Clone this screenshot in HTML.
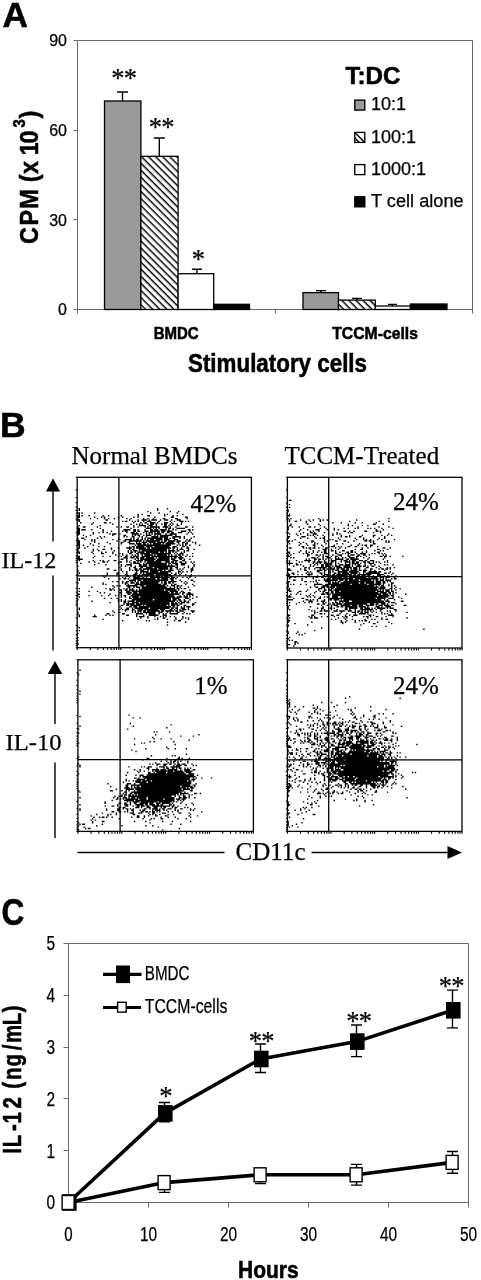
<!DOCTYPE html>
<html><head><meta charset="utf-8"><title>Figure</title>
<style>
html,body{margin:0;padding:0;background:#fff}
svg{display:block;filter:grayscale(1)}
.s{font-family:"Liberation Sans",sans-serif;stroke:#000;stroke-width:.25px}
.b{font-family:"Liberation Sans",sans-serif;font-weight:bold;stroke:#000;stroke-width:.55px}
.t{font-family:"Liberation Serif",serif;stroke:#000;stroke-width:.25px}
</style></head><body>
<svg width="481" height="1280" viewBox="0 0 481 1280">
<rect width="481" height="1280" fill="#fff"/>
<defs><pattern id="hz" width="5" height="5" patternUnits="userSpaceOnUse" patternTransform="rotate(45)"><rect width="5" height="5" fill="#fff"/><rect width="5" height="1.45" fill="#000"/></pattern></defs>
<g id="panelA">
<text class="b" x="2.6" y="27" font-size="35.3">A</text>
<path d="M77.5 40.5H472.5V313.5M77.5 40.5V313.5M73.5 309.5H472.5" fill="none" stroke="#6a6a6a" stroke-width="1"/>
<path d="M73.5 40.5H77.5M73.5 130.5H77.5M73.5 219.5H77.5M275.5 309.5V313.5" stroke="#6a6a6a" stroke-width="1" fill="none"/>
<text class="s" x="67" y="46.3" font-size="16" text-anchor="end">90</text>
<text class="s" x="67" y="136.0" font-size="16" text-anchor="end">60</text>
<text class="s" x="67" y="225.6" font-size="16" text-anchor="end">30</text>
<text class="s" x="67" y="315.3" font-size="16" text-anchor="end">0</text>
<path d="M122.5 101V92M117.0 92H128.0" stroke="#000" stroke-width="1.4" fill="none"/>
<path d="M159.3 156.3V138M153.8 138H164.8" stroke="#000" stroke-width="1.4" fill="none"/>
<path d="M196.9 273.7V269.3M191.9 269.3H201.9" stroke="#000" stroke-width="1.4" fill="none"/>
<rect x="104.5" y="101" width="36.4" height="208.5" fill="#999999" stroke="#000" stroke-width="1.3"/>
<rect x="140.9" y="156.3" width="37.2" height="153.2" fill="url(#hz)" stroke="#000" stroke-width="1.3"/>
<rect x="178.1" y="273.7" width="35.6" height="35.8" fill="#fff" stroke="#000" stroke-width="1.3"/>
<rect x="213.7" y="304.3" width="35.8" height="5.2" fill="#000" stroke="#000" stroke-width="1.3"/>
<path d="M321 292.6V290.6M316.0 290.6H326.0" stroke="#000" stroke-width="1.4" fill="none"/>
<path d="M357 300.1V298.4M352.0 298.4H362.0" stroke="#000" stroke-width="1.4" fill="none"/>
<path d="M392.5 306V304.4M388.0 304.4H397.0" stroke="#000" stroke-width="1.4" fill="none"/>
<rect x="303" y="292.6" width="35.5" height="16.9" fill="#999999" stroke="#000" stroke-width="1.3"/>
<rect x="338.5" y="300.1" width="36.8" height="9.4" fill="url(#hz)" stroke="#000" stroke-width="1.3"/>
<rect x="375.3" y="306" width="35.1" height="3.5" fill="#fff" stroke="#000" stroke-width="1.3"/>
<rect x="410.4" y="304" width="36.6" height="5.5" fill="#000" stroke="#000" stroke-width="1.3"/>
<text class="t" x="111.3" y="87.2" font-size="26.5" letter-spacing="-0.8">**</text>
<text class="t" x="148.7" y="135.6" font-size="26.5" letter-spacing="-0.8">**</text>
<text class="t" x="191.8" y="267.6" font-size="26.5">*</text>
<text class="b" x="153.7" y="338.7" font-size="17" textLength="45" lengthAdjust="spacingAndGlyphs">BMDC</text>
<text class="b" x="332.2" y="338.7" font-size="17" textLength="85.7" lengthAdjust="spacingAndGlyphs">TCCM-cells</text>
<text class="b" x="188" y="372" font-size="25.5" textLength="179" lengthAdjust="spacingAndGlyphs">Stimulatory cells</text>
<text class="b" transform="translate(38.2 244.1) rotate(-90) scale(0.9 1)" font-size="26" x="0 20.7 39.3 59 68.6 77.8 89 98.8 111.8">CPM (x 10<tspan font-size="16.5" x="129.6" dy="-13.1">3</tspan><tspan x="139.6" dy="13.1">)</tspan></text>
<text class="b" x="345.5" y="83.6" font-size="23" textLength="55" lengthAdjust="spacingAndGlyphs">T:DC</text>
<rect x="354.8" y="100.1" width="10" height="10" fill="#999999" stroke="#000" stroke-width="1.35"/>
<text class="s" x="371" y="110.3" font-size="18">10:1</text>
<rect x="354.8" y="132.4" width="10" height="10" fill="#fff" stroke="#000" stroke-width="1.35"/><path d="M354.8 132.4l10 10M354.8 137.9l4.5 4.5" stroke="#000" stroke-width="1.4"/>
<text class="s" x="371" y="142.6" font-size="18">100:1</text>
<rect x="354.8" y="164.6" width="10" height="10" fill="#fff" stroke="#000" stroke-width="1.35"/>
<text class="s" x="371" y="174.8" font-size="18">1000:1</text>
<rect x="354.8" y="196.8" width="10" height="10" fill="#000" stroke="#000" stroke-width="1.35"/>
<text class="s" x="371" y="207" font-size="18" textLength="92.6" lengthAdjust="spacingAndGlyphs">T cell alone</text>
</g>
<g id="panelB">
<text class="b" x="0" y="437.3" font-size="35.5">B</text>
<text class="t" x="71.5" y="464" font-size="25" textLength="166" lengthAdjust="spacingAndGlyphs">Normal BMDCs</text>
<text class="t" x="284.5" y="464" font-size="25">TCCM-Treated</text>
<text class="t" x="1.4" y="568" font-size="24" textLength="55" lengthAdjust="spacingAndGlyphs">IL-12</text>
<text class="t" x="5.5" y="750.3" font-size="24" textLength="56" lengthAdjust="spacingAndGlyphs">IL-10</text>
<text class="t" x="235.5" y="860" font-size="25" textLength="70" lengthAdjust="spacingAndGlyphs">CD11c</text>
<path d="M53 490V541.5M53 575.5V650.5M55 673V724M55 762.5V838M77.5 852.5H224.5M311.5 852.5H448" stroke="#000" stroke-width="1.4" fill="none"/>
<path d="M53 478.3L46 491.4H60zM55 660.9L47.7 674H62.3zM462 852.5L447.5 846V859z" fill="#000"/>
<path d="M1 22h1M57 22h1M64 22h1M1 23h1M57 23h1M50 24h1M66 24h1M72 24h1M0 25h2M3 25h1M12 25h1M52 25h1M58 25h1M71 25h1M1 26h1M43 26h1M46 26h1M62 26h1M64 26h1M75 26h1M0 27h2M3 27h1M8 27h1M18 27h1M22 27h1M31 27h1M43 27h1M50 27h2M62 27h1M68 27h1M71 27h1M0 28h2M12 28h1M17 28h1M19 28h1M29 28h1M32 28h1M40 28h1M43 28h1M55 28h1M67 28h2M77 28h2M0 29h1M9 29h1M14 29h1M19 29h1M22 29h1M26 29h1M35 29h1M38 29h1M47 29h1M50 29h1M54 29h1M61 29h2M70 29h2M78 29h1M0 30h2M20 30h2M37 30h1M43 30h1M46 30h4M51 30h1M53 30h4M59 30h1M62 30h3M67 30h1M71 30h3M1 31h1M32 31h1M34 31h2M39 31h1M41 31h1M43 31h1M47 31h1M50 31h3M58 31h1M66 31h1M69 31h1M73 31h3M77 31h1M79 31h1M2 32h1M11 32h1M19 32h2M23 32h1M40 32h1M45 32h1M48 32h2M52 32h4M57 32h1M62 32h3M67 32h1M74 32h1M10 33h1M25 33h1M38 33h1M42 33h1M44 33h1M46 33h1M50 33h1M52 33h3M56 33h1M60 33h1M62 33h2M66 33h1M68 33h1M71 33h1M74 33h1M1 34h1M16 34h1M40 34h1M44 34h5M51 34h3M56 34h1M62 34h2M65 34h1M67 34h1M71 34h2M0 35h1M4 35h2M14 35h1M28 35h1M31 35h1M35 35h2M40 35h1M43 35h1M48 35h1M50 35h1M52 35h7M61 35h4M66 35h1M70 35h1M77 35h2M82 35h1M0 36h2M16 36h1M38 36h1M49 36h4M54 36h1M56 36h1M58 36h1M63 36h1M65 36h2M68 36h1M71 36h6M0 37h2M3 37h3M10 37h1M18 37h1M33 37h5M40 37h2M43 37h1M48 37h1M52 37h2M55 37h3M59 37h5M65 37h1M68 37h1M70 37h1M79 37h2M82 37h1M0 38h2M18 38h1M24 38h1M32 38h1M34 38h2M40 38h2M43 38h2M48 38h3M52 38h7M60 38h3M64 38h4M74 38h4M80 38h1M0 39h2M11 39h1M15 39h1M18 39h1M21 39h1M35 39h1M38 39h3M42 39h1M47 39h1M49 39h1M51 39h3M55 39h1M57 39h2M60 39h2M64 39h2M67 39h2M72 39h3M79 39h1M81 39h1M0 40h2M11 40h1M23 40h1M25 40h3M30 40h1M39 40h5M45 40h1M49 40h1M51 40h1M53 40h1M55 40h5M63 40h1M66 40h5M78 40h1M82 40h1M0 41h1M4 41h1M9 41h1M25 41h1M33 41h2M39 41h1M41 41h1M43 41h2M47 41h1M49 41h4M55 41h1M57 41h1M59 41h9M70 41h1M6 42h1M16 42h1M19 42h1M33 42h1M35 42h1M39 42h2M44 42h1M46 42h1M49 42h1M53 42h5M59 42h6M68 42h6M76 42h1M83 42h1M0 43h1M3 43h2M14 43h1M17 43h1M29 43h1M38 43h1M40 43h1M43 43h1M46 43h1M48 43h1M50 43h11M62 43h3M66 43h1M68 43h2M73 43h1M76 43h1M81 43h1M0 44h1M5 44h1M10 44h1M12 44h1M25 44h1M30 44h1M34 44h5M40 44h1M42 44h2M45 44h2M48 44h1M50 44h1M52 44h3M56 44h5M62 44h4M69 44h3M78 44h1M80 44h1M0 45h2M10 45h1M12 45h1M28 45h1M33 45h2M37 45h9M47 45h1M49 45h10M60 45h1M62 45h2M65 45h5M71 45h3M77 45h1M79 45h2M0 46h2M12 46h1M21 46h1M31 46h2M36 46h2M42 46h1M44 46h1M46 46h4M51 46h5M57 46h6M64 46h5M71 46h2M75 46h2M78 46h1M82 46h1M84 46h1M0 47h2M9 47h1M15 47h1M23 47h1M31 47h1M37 47h4M42 47h4M47 47h2M50 47h1M52 47h1M54 47h6M61 47h1M63 47h7M72 47h1M75 47h1M77 47h2M84 47h1M0 48h2M4 48h1M11 48h1M41 48h1M43 48h24M71 48h1M73 48h1M75 48h1M77 48h1M80 48h1M87 48h1M1 49h1M7 49h1M15 49h1M19 49h1M37 49h1M39 49h2M42 49h6M49 49h5M55 49h11M68 49h3M75 49h2M78 49h1M0 50h2M5 50h1M24 50h1M29 50h1M35 50h4M40 50h1M42 50h7M50 50h2M53 50h14M68 50h2M71 50h1M74 50h1M78 50h2M0 51h1M11 51h1M14 51h1M18 51h2M24 51h1M37 51h1M39 51h2M44 51h20M65 51h1M68 51h1M71 51h1M73 51h3M79 51h1M83 51h1M0 52h1M11 52h1M15 52h1M26 52h1M36 52h1M38 52h1M40 52h3M44 52h1M46 52h18M65 52h5M71 52h2M76 52h1M78 52h2M0 53h2M10 53h1M17 53h1M20 53h1M25 53h1M36 53h1M38 53h2M41 53h1M43 53h5M49 53h9M59 53h3M63 53h1M65 53h2M68 53h1M70 53h1M74 53h1M76 53h1M1 54h1M11 54h1M17 54h2M25 54h1M30 54h1M32 54h1M37 54h2M42 54h2M45 54h7M53 54h14M69 54h1M71 54h1M73 54h3M82 54h1M27 55h1M32 55h1M35 55h1M39 55h1M41 55h1M43 55h1M46 55h1M48 55h6M55 55h1M57 55h7M65 55h1M67 55h1M70 55h1M72 55h2M75 55h1M78 55h1M0 56h2M12 56h1M18 56h1M23 56h1M29 56h1M31 56h1M34 56h2M38 56h1M40 56h4M46 56h6M53 56h19M73 56h2M77 56h1M80 56h1M82 56h1M0 57h2M11 57h1M33 57h3M38 57h3M42 57h2M45 57h3M49 57h6M56 57h1M58 57h8M67 57h1M69 57h2M72 57h4M0 58h4M31 58h2M35 58h1M41 58h1M43 58h1M45 58h11M57 58h9M67 58h3M73 58h2M76 58h1M80 58h1M1 59h1M11 59h1M16 59h1M18 59h1M22 59h1M26 59h2M35 59h1M38 59h1M42 59h5M48 59h7M56 59h10M68 59h4M75 59h2M8 60h1M12 60h1M18 60h2M21 60h1M30 60h2M35 60h1M37 60h1M40 60h2M43 60h1M45 60h1M48 60h1M50 60h10M63 60h3M67 60h2M70 60h1M73 60h2M77 60h1M81 60h1M83 60h1M2 61h1M15 61h1M29 61h1M38 61h1M40 61h5M47 61h1M49 61h15M65 61h2M68 61h4M74 61h4M82 61h1M12 62h1M20 62h1M31 62h1M35 62h4M44 62h2M47 62h3M51 62h13M65 62h1M67 62h1M70 62h2M74 62h3M83 62h1M0 63h1M31 63h1M34 63h1M38 63h1M41 63h1M44 63h6M51 63h19M71 63h1M79 63h1M83 63h1M30 64h1M37 64h1M40 64h2M45 64h2M49 64h5M55 64h10M66 64h2M70 64h2M76 64h1M79 64h1M82 64h1M21 65h2M31 65h1M37 65h1M41 65h2M44 65h2M47 65h10M58 65h7M66 65h2M71 65h1M73 65h1M75 65h1M81 65h2M0 66h1M26 66h2M31 66h1M37 66h1M39 66h1M41 66h3M45 66h3M50 66h1M52 66h9M62 66h1M65 66h4M72 66h1M74 66h1M81 66h2M0 67h1M32 67h1M35 67h1M42 67h1M45 67h6M52 67h6M59 67h8M72 67h2M75 67h1M78 67h1M81 67h1M1 68h1M21 68h1M28 68h2M35 68h1M41 68h2M45 68h1M47 68h1M49 68h16M67 68h1M70 68h1M72 68h1M74 68h1M0 69h1M21 69h1M28 69h1M34 69h2M40 69h3M44 69h1M46 69h9M56 69h11M69 69h2M73 69h1M77 69h1M81 69h1M18 70h1M20 70h1M29 70h1M35 70h2M40 70h2M43 70h4M48 70h3M52 70h3M56 70h3M60 70h1M62 70h3M66 70h2M80 70h2M19 71h1M32 71h1M34 71h1M37 71h1M40 71h5M46 71h2M49 71h1M52 71h14M67 71h3M71 71h1M75 71h1M78 71h1M80 71h1M84 71h1M1 72h1M22 72h1M30 72h1M33 72h2M36 72h1M40 72h16M57 72h2M60 72h5M66 72h3M70 72h1M79 72h1M1 73h1M37 73h5M43 73h3M47 73h18M67 73h2M73 73h1M81 73h2M25 74h1M28 74h2M32 74h1M35 74h2M38 74h2M41 74h1M43 74h1M45 74h14M60 74h1M62 74h2M65 74h6M74 74h1M77 74h1M83 74h1M0 75h1M18 75h1M32 75h1M34 75h2M38 75h3M42 75h2M45 75h13M60 75h1M62 75h2M65 75h2M68 75h1M76 75h1M78 75h1M18 76h1M20 76h1M34 76h1M36 76h1M41 76h19M61 76h3M67 76h1M69 76h2M77 76h1M82 76h1M25 77h1M28 77h1M30 77h1M35 77h8M45 77h3M49 77h14M64 77h1M67 77h3M71 77h2M74 77h1M83 77h1M10 78h1M26 78h1M36 78h2M40 78h1M42 78h3M46 78h18M66 78h1M69 78h1M71 78h1M73 78h1M79 78h1M1 79h1M20 79h1M23 79h1M25 79h1M33 79h1M35 79h1M37 79h1M39 79h1M44 79h1M46 79h24M71 79h2M74 79h1M76 79h2M23 80h2M26 80h1M30 80h2M34 80h2M37 80h4M42 80h1M44 80h18M63 80h8M72 80h1M80 80h1M1 81h1M8 81h1M14 81h1M31 81h1M35 81h3M39 81h26M66 81h6M74 81h2M16 82h1M19 82h1M30 82h2M35 82h4M40 82h3M44 82h22M67 82h2M70 82h2M73 82h1M75 82h2M79 82h2M0 83h2M23 83h1M31 83h1M36 83h2M39 83h34M75 83h1M78 83h5M0 84h1M8 84h1M17 84h1M22 84h1M27 84h1M29 84h1M31 84h1M33 84h2M38 84h31M73 84h1M76 84h1M78 84h1M80 84h1M82 84h1M1 85h1M31 85h1M34 85h1M37 85h1M39 85h5M45 85h25M71 85h4M76 85h3M80 85h1M85 85h1M19 86h1M24 86h1M28 86h1M37 86h2M40 86h27M68 86h5M77 86h3M82 86h1M0 87h1M29 87h1M31 87h1M34 87h1M39 87h15M55 87h12M68 87h3M72 87h2M76 87h1M80 87h1M10 88h1M29 88h1M31 88h1M33 88h2M36 88h5M42 88h28M71 88h1M73 88h2M76 88h2M79 88h1M23 89h1M33 89h2M36 89h1M39 89h5M45 89h21M67 89h2M70 89h1M72 89h1M74 89h3M78 89h2M84 89h1M33 90h1M35 90h6M42 90h24M67 90h5M73 90h2M82 90h2M31 91h2M35 91h2M38 91h8M47 91h1M49 91h15M65 91h1M67 91h3M71 91h2M76 91h2M82 91h1M30 92h1M37 92h2M40 92h3M44 92h23M68 92h2M71 92h1M74 92h1M76 92h1M78 92h3M1 93h1M31 93h1M35 93h2M39 93h1M41 93h10M52 93h14M67 93h2M70 93h2M74 93h3M79 93h1M1 94h1M30 94h1M32 94h1M34 94h3M39 94h2M43 94h4M48 94h10M59 94h4M66 94h2M69 94h1M71 94h1M73 94h1M75 94h3M79 94h1M25 95h1M34 95h1M39 95h1M41 95h1M43 95h3M47 95h2M50 95h9M60 95h2M63 95h6M70 95h2M73 95h3M81 95h3M0 96h1M26 96h1M29 96h2M39 96h1M41 96h1M43 96h1M45 96h1M47 96h9M58 96h3M64 96h1M66 96h1M71 96h2M76 96h1M82 96h1M0 97h1M21 97h2M32 97h2M42 97h5M49 97h1M51 97h5M58 97h1M61 97h1M63 97h1M66 97h6M75 97h1M78 97h1M80 97h1M1 98h1M12 98h1M20 98h1M23 98h1M25 98h1M35 98h2M42 98h1M47 98h1M51 98h7M61 98h3M1 99h1M11 99h3M42 99h1M44 99h4M50 99h1M55 99h1M59 99h1M61 99h1M63 99h1M66 99h1M69 99h1M75 99h1M45 100h1M50 100h1M57 100h1M61 100h2M70 100h1M75 100h1M77 100h1M79 100h1M18 101h1M43 101h1M55 101h1M57 101h1M64 101h1M70 101h1M74 101h1M79 101h1M32 102h1M49 102h1M51 102h1M69 102h1M72 102h2M64 103h1M77 103h1M64 105h1M0 106h1M1 107h1M1 109h1M0 111h1M0 114h1M0 116h1M0 118h1M0 119h1" transform="translate(77.2 478.00) scale(1.4)" stroke="#000" stroke-width="1" fill="none"/>
<path d="M77.2 647.7v2.4M90.3 647.7v2.4M98.0 647.7v2.4M103.4 647.7v2.4M107.6 647.7v2.4M111.1 647.7v2.4M114.0 647.7v2.4M116.5 647.7v2.4M118.8 647.7v2.4M120.8 647.7v2.4M133.9 647.7v2.4M141.5 647.7v2.4M147.0 647.7v2.4M151.2 647.7v2.4M154.6 647.7v2.4M157.6 647.7v2.4M160.1 647.7v2.4M162.3 647.7v2.4M164.3 647.7v2.4M177.4 647.7v2.4M185.1 647.7v2.4M190.5 647.7v2.4M194.7 647.7v2.4M198.2 647.7v2.4M201.1 647.7v2.4M203.6 647.7v2.4M205.9 647.7v2.4M207.8 647.7v2.4M221.0 647.7v2.4M228.6 647.7v2.4M234.1 647.7v2.4M238.3 647.7v2.4M241.7 647.7v2.4M244.7 647.7v2.4M247.2 647.7v2.4M249.4 647.7v2.4M251.4 647.7v2.4M77.2 477.3h-1.5M77.2 490.1h-1.5M77.2 497.6h-1.5M77.2 502.9h-1.5M77.2 507.1h-1.5M77.2 510.4h-1.5M77.2 513.3h-1.5M77.2 515.8h-1.5M77.2 518.0h-1.5M77.2 519.9h-1.5M77.2 532.7h-1.5M77.2 540.2h-1.5M77.2 545.5h-1.5M77.2 549.7h-1.5M77.2 553.0h-1.5M77.2 555.9h-1.5M77.2 558.4h-1.5M77.2 560.6h-1.5M77.2 562.5h-1.5M77.2 575.3h-1.5M77.2 582.8h-1.5M77.2 588.1h-1.5M77.2 592.3h-1.5M77.2 595.6h-1.5M77.2 598.5h-1.5M77.2 601.0h-1.5M77.2 603.2h-1.5M77.2 605.1h-1.5M77.2 617.9h-1.5M77.2 625.4h-1.5M77.2 630.7h-1.5M77.2 634.9h-1.5M77.2 638.2h-1.5M77.2 641.1h-1.5M77.2 643.6h-1.5M77.2 645.8h-1.5M77.2 647.7h-1.5" stroke="#000" stroke-width="1.1" fill="none"/>
<rect x="77.2" y="477.3" width="174.2" height="170.4" fill="none" stroke="#000" stroke-width="1.3"/>
<path d="M118.9 477.3V647.7M77.2 575.8H251.4" stroke="#000" stroke-width="1.3" fill="none"/>
<text class="t" x="213.5" y="512" font-size="25" text-anchor="middle">42%</text>
<path d="M1 16h2M1 19h1M1 21h1M0 23h1M0 24h1M1 26h1M0 27h2M0 29h1M2 29h1M22 29h1M72 29h1M1 30h1M9 30h1M15 30h1M18 30h1M23 30h1M25 30h1M28 30h1M49 30h1M1 31h1M5 31h2M13 31h1M16 31h1M23 31h1M44 31h1M65 31h1M72 31h1M13 32h1M32 32h1M38 32h1M48 32h1M53 32h1M63 32h1M2 33h1M14 33h1M22 33h1M43 33h1M61 33h2M68 33h1M1 34h2M23 34h1M43 34h1M46 34h1M53 34h1M57 34h1M0 35h1M3 35h1M8 35h1M15 35h2M19 35h1M26 35h1M50 35h1M65 35h1M72 35h1M0 36h1M11 36h1M23 36h1M27 36h1M33 36h1M40 36h1M43 36h1M48 36h1M50 36h1M57 36h1M59 36h1M62 36h1M67 36h1M75 36h1M0 37h1M9 37h1M14 37h1M20 37h3M28 37h1M33 37h1M36 37h1M63 37h1M68 37h1M8 38h1M16 38h1M18 38h1M22 38h1M40 38h2M44 38h1M47 38h1M55 38h2M63 38h2M66 38h1M0 39h1M11 39h1M16 39h2M19 39h1M26 39h1M35 39h1M43 39h1M45 39h2M61 39h1M66 39h1M1 40h1M6 40h1M9 40h1M14 40h1M18 40h3M29 40h1M32 40h1M35 40h1M37 40h1M72 40h1M7 41h1M14 41h1M16 41h1M18 41h1M21 41h1M25 41h1M32 41h1M38 41h1M44 41h1M53 41h1M61 41h2M67 41h1M71 41h1M74 41h1M0 42h2M10 42h3M19 42h1M26 42h1M38 42h1M41 42h2M44 42h1M51 42h2M61 42h1M69 42h1M0 43h1M9 43h1M14 43h1M20 43h1M23 43h1M25 43h2M36 43h1M48 43h1M54 43h1M65 43h1M69 43h1M5 44h1M26 44h1M30 44h1M32 44h1M37 44h1M49 44h1M54 44h1M56 44h1M59 44h1M64 44h1M67 44h1M76 44h1M0 45h2M3 45h1M17 45h2M26 45h1M28 45h1M34 45h2M40 45h2M47 45h1M55 45h2M58 45h2M61 45h1M70 45h1M72 45h1M0 46h1M8 46h1M11 46h1M17 46h1M19 46h1M26 46h1M43 46h1M59 46h1M61 46h1M70 46h1M72 46h1M1 47h1M9 47h1M13 47h1M19 47h1M21 47h1M27 47h1M35 47h1M39 47h1M51 47h1M61 47h2M8 48h1M14 48h1M18 48h2M24 48h1M33 48h1M45 48h1M50 48h1M53 48h1M55 48h2M59 48h2M10 49h2M19 49h1M25 49h1M29 49h1M31 49h3M36 49h1M38 49h1M43 49h2M48 49h2M56 49h1M59 49h1M64 49h1M1 50h2M11 50h1M13 50h1M15 50h2M18 50h2M22 50h1M27 50h2M34 50h1M37 50h1M41 50h1M53 50h1M57 50h1M68 50h2M73 50h1M16 51h1M25 51h3M31 51h1M36 51h1M48 51h1M52 51h2M64 51h2M71 51h1M9 52h1M13 52h1M18 52h1M22 52h1M26 52h2M31 52h2M34 52h1M39 52h2M45 52h2M56 52h1M62 52h1M66 52h1M68 52h1M0 53h2M8 53h1M13 53h1M15 53h1M18 53h1M21 53h1M24 53h1M26 53h2M34 53h1M37 53h1M42 53h2M45 53h2M48 53h1M53 53h1M56 53h1M64 53h2M1 54h1M4 54h1M11 54h1M13 54h2M17 54h1M26 54h3M34 54h2M39 54h1M41 54h1M43 54h2M49 54h1M52 54h4M60 54h1M62 54h1M65 54h1M67 54h1M69 54h1M0 55h1M2 55h1M14 55h2M20 55h2M23 55h1M25 55h1M32 55h1M36 55h3M43 55h1M45 55h3M50 55h2M54 55h2M58 55h1M68 55h1M70 55h1M0 56h2M14 56h1M22 56h1M25 56h1M27 56h2M31 56h1M34 56h2M38 56h1M43 56h2M49 56h2M52 56h1M56 56h1M66 56h2M69 56h2M73 56h1M82 56h1M2 57h1M4 57h1M17 57h3M21 57h1M25 57h1M28 57h3M34 57h1M36 57h1M39 57h1M41 57h1M44 57h4M49 57h1M54 57h1M58 57h1M69 57h1M13 58h1M15 58h1M19 58h2M22 58h2M25 58h1M27 58h1M31 58h1M34 58h6M42 58h2M45 58h6M57 58h1M68 58h1M1 59h1M6 59h1M12 59h5M19 59h1M22 59h1M26 59h1M29 59h1M31 59h4M38 59h1M40 59h3M44 59h1M46 59h3M51 59h3M55 59h2M59 59h3M71 59h1M1 60h1M8 60h1M10 60h1M15 60h1M18 60h2M21 60h4M26 60h2M31 60h2M34 60h1M38 60h1M41 60h4M46 60h2M49 60h2M54 60h2M57 60h2M61 60h1M63 60h1M65 60h1M69 60h1M71 60h1M0 61h4M6 61h1M18 61h1M20 61h2M23 61h1M26 61h3M30 61h2M34 61h1M36 61h1M41 61h1M44 61h1M46 61h5M52 61h1M55 61h1M58 61h4M66 61h1M1 62h1M6 62h2M9 62h1M16 62h1M19 62h1M21 62h1M24 62h2M27 62h2M30 62h2M34 62h1M37 62h3M41 62h4M46 62h1M48 62h1M50 62h2M55 62h1M59 62h1M62 62h1M69 62h1M71 62h1M75 62h1M4 63h1M11 63h1M16 63h1M18 63h1M24 63h2M27 63h4M32 63h1M34 63h4M40 63h5M46 63h1M49 63h4M54 63h2M57 63h1M60 63h2M65 63h1M12 64h2M15 64h1M20 64h8M30 64h2M33 64h1M35 64h4M40 64h6M47 64h3M51 64h1M56 64h2M63 64h1M66 64h1M71 64h1M73 64h1M76 64h1M0 65h2M9 65h1M12 65h1M15 65h1M19 65h1M23 65h1M25 65h2M28 65h1M30 65h4M35 65h2M38 65h3M42 65h2M45 65h1M47 65h3M51 65h1M55 65h1M59 65h2M65 65h1M67 65h2M70 65h2M73 65h1M0 66h3M12 66h2M21 66h4M26 66h2M30 66h1M32 66h1M34 66h3M39 66h5M45 66h5M51 66h2M54 66h3M59 66h1M62 66h1M69 66h1M7 67h1M14 67h1M16 67h1M21 67h2M26 67h1M29 67h2M32 67h1M36 67h7M44 67h7M54 67h2M58 67h6M65 67h2M73 67h1M0 68h1M3 68h2M13 68h1M15 68h1M17 68h1M23 68h2M26 68h1M30 68h1M33 68h2M36 68h2M39 68h5M45 68h5M51 68h1M54 68h1M56 68h10M69 68h2M72 68h1M75 68h1M0 69h2M4 69h1M7 69h1M10 69h1M14 69h4M24 69h1M26 69h3M30 69h1M32 69h2M35 69h11M47 69h2M50 69h10M64 69h5M74 69h1M0 70h2M15 70h1M21 70h1M25 70h2M28 70h15M44 70h8M53 70h3M57 70h2M61 70h1M64 70h3M69 70h1M71 70h2M77 70h1M1 71h2M5 71h1M13 71h1M18 71h1M20 71h2M24 71h2M29 71h10M40 71h3M44 71h12M58 71h1M60 71h4M66 71h3M70 71h3M76 71h1M1 72h1M10 72h1M18 72h1M26 72h1M28 72h3M32 72h15M48 72h17M66 72h1M68 72h1M70 72h1M74 72h1M76 72h2M4 73h2M10 73h1M20 73h1M22 73h1M26 73h10M37 73h3M41 73h2M44 73h7M52 73h8M61 73h1M63 73h2M66 73h3M70 73h4M0 74h2M12 74h2M16 74h1M18 74h1M20 74h1M27 74h4M32 74h1M34 74h1M36 74h2M40 74h22M63 74h4M68 74h2M71 74h1M73 74h1M0 75h1M21 75h1M29 75h2M32 75h5M38 75h13M52 75h3M56 75h6M63 75h4M68 75h2M74 75h2M0 76h1M2 76h1M4 76h1M9 76h1M13 76h1M19 76h6M27 76h18M46 76h11M58 76h9M68 76h1M72 76h1M74 76h1M0 77h1M19 77h1M25 77h4M31 77h31M63 77h1M65 77h1M67 77h2M72 77h1M74 77h1M76 77h1M0 78h1M16 78h1M20 78h2M24 78h3M28 78h1M30 78h4M35 78h30M66 78h4M74 78h1M77 78h1M1 79h1M22 79h3M26 79h1M29 79h1M31 79h2M34 79h30M65 79h5M73 79h2M76 79h1M80 79h1M0 80h2M14 80h1M22 80h1M26 80h2M29 80h3M33 80h32M66 80h1M68 80h1M70 80h3M74 80h1M77 80h1M1 81h2M8 81h2M13 81h1M20 81h1M23 81h1M25 81h2M31 81h2M34 81h3M38 81h25M64 81h5M70 81h3M74 81h2M7 82h1M19 82h1M25 82h1M27 82h2M31 82h2M34 82h31M66 82h5M72 82h2M75 82h1M77 82h1M2 83h1M6 83h1M9 83h1M16 83h1M24 83h3M28 83h1M30 83h1M32 83h35M68 83h4M73 83h1M75 83h1M84 83h1M1 84h1M13 84h1M15 84h1M18 84h1M29 84h1M32 84h32M65 84h8M74 84h2M0 85h3M14 85h1M16 85h1M19 85h1M23 85h1M26 85h1M28 85h2M32 85h4M38 85h34M75 85h1M79 85h1M4 86h1M10 86h2M22 86h2M30 86h33M64 86h6M72 86h4M81 86h1M0 87h4M13 87h2M16 87h1M18 87h1M21 87h1M26 87h1M30 87h2M33 87h4M38 87h1M40 87h27M69 87h1M71 87h1M76 87h1M11 88h1M15 88h3M21 88h1M24 88h3M34 88h1M37 88h7M46 88h23M70 88h3M81 88h2M1 89h1M8 89h1M12 89h1M15 89h1M17 89h1M25 89h1M27 89h1M32 89h1M34 89h2M37 89h1M39 89h1M41 89h29M72 89h1M74 89h3M6 90h1M21 90h2M25 90h2M30 90h1M32 90h2M35 90h4M40 90h17M59 90h3M63 90h2M67 90h3M71 90h1M77 90h1M1 91h1M24 91h1M28 91h1M31 91h1M33 91h3M38 91h7M46 91h4M51 91h3M56 91h6M63 91h1M65 91h3M69 91h4M74 91h2M83 91h2M0 92h1M16 92h1M25 92h1M31 92h1M35 92h2M38 92h2M41 92h9M51 92h5M57 92h1M63 92h3M67 92h1M70 92h4M0 93h1M21 93h1M24 93h2M30 93h2M33 93h1M41 93h2M44 93h6M52 93h2M55 93h4M60 93h1M62 93h1M64 93h6M71 93h1M73 93h3M1 94h1M15 94h1M24 94h1M26 94h1M31 94h1M35 94h1M41 94h2M44 94h1M48 94h1M52 94h9M63 94h1M66 94h2M76 94h2M17 95h1M19 95h1M23 95h2M26 95h4M33 95h3M37 95h4M43 95h3M48 95h1M50 95h2M53 95h1M55 95h1M57 95h1M59 95h1M61 95h1M66 95h1M71 95h1M73 95h1M77 95h1M19 96h1M21 96h1M32 96h1M38 96h1M46 96h3M50 96h1M52 96h2M55 96h3M60 96h1M63 96h1M67 96h1M73 96h1M85 96h1M19 97h1M23 97h2M26 97h1M37 97h1M42 97h1M48 97h1M51 97h5M57 97h1M67 97h1M69 97h1M71 97h1M74 97h1M0 98h2M17 98h2M31 98h2M35 98h2M41 98h1M44 98h1M47 98h3M58 98h2M61 98h1M72 98h4M0 99h1M15 99h1M17 99h1M19 99h1M24 99h1M28 99h1M33 99h1M39 99h1M41 99h2M46 99h1M54 99h1M56 99h2M59 99h1M63 99h2M70 99h1M75 99h1M1 100h1M16 100h2M19 100h3M36 100h1M40 100h1M42 100h1M57 100h1M67 100h1M85 100h1M0 101h1M31 101h1M34 101h1M41 101h1M46 101h1M55 101h1M60 101h1M62 101h1M67 101h1M70 101h2M0 102h2M38 102h1M42 102h1M48 102h1M51 102h1M53 102h1M55 102h2M0 103h1M17 103h1M38 103h2M41 103h1M48 103h1M58 103h1M64 103h1M72 103h1M5 104h1M39 104h1M54 104h1M61 104h2M74 104h1M0 105h1M14 105h1M52 105h1M0 106h1M60 106h1M63 106h1M70 106h1M24 107h1M51 108h1M97 108h1M19 109h1M0 110h1M7 110h1M0 111h1M6 111h1M12 111h1M8 112h1M10 112h1M1 114h1M0 115h1M1 116h1M3 116h1M5 117h2M5 118h1M7 118h1M0 119h2M5 119h1M4 120h1" transform="translate(287.4 478.00) scale(1.4)" stroke="#000" stroke-width="1" fill="none"/>
<path d="M287.4 648.0v2.4M300.5 648.0v2.4M308.2 648.0v2.4M313.7 648.0v2.4M317.9 648.0v2.4M321.4 648.0v2.4M324.3 648.0v2.4M326.8 648.0v2.4M329.1 648.0v2.4M331.0 648.0v2.4M344.2 648.0v2.4M351.9 648.0v2.4M357.3 648.0v2.4M361.6 648.0v2.4M365.0 648.0v2.4M367.9 648.0v2.4M370.5 648.0v2.4M372.7 648.0v2.4M374.7 648.0v2.4M387.8 648.0v2.4M395.5 648.0v2.4M401.0 648.0v2.4M405.2 648.0v2.4M408.7 648.0v2.4M411.6 648.0v2.4M414.1 648.0v2.4M416.4 648.0v2.4M418.4 648.0v2.4M431.5 648.0v2.4M439.2 648.0v2.4M444.6 648.0v2.4M448.9 648.0v2.4M452.3 648.0v2.4M455.2 648.0v2.4M457.8 648.0v2.4M460.0 648.0v2.4M462.0 648.0v2.4M287.4 477.3h-1.5M287.4 490.1h-1.5M287.4 497.7h-1.5M287.4 503.0h-1.5M287.4 507.1h-1.5M287.4 510.5h-1.5M287.4 513.4h-1.5M287.4 515.8h-1.5M287.4 518.0h-1.5M287.4 520.0h-1.5M287.4 532.8h-1.5M287.4 540.3h-1.5M287.4 545.7h-1.5M287.4 549.8h-1.5M287.4 553.2h-1.5M287.4 556.0h-1.5M287.4 558.5h-1.5M287.4 560.7h-1.5M287.4 562.6h-1.5M287.4 575.5h-1.5M287.4 583.0h-1.5M287.4 588.3h-1.5M287.4 592.5h-1.5M287.4 595.9h-1.5M287.4 598.7h-1.5M287.4 601.2h-1.5M287.4 603.4h-1.5M287.4 605.3h-1.5M287.4 618.2h-1.5M287.4 625.7h-1.5M287.4 631.0h-1.5M287.4 635.2h-1.5M287.4 638.5h-1.5M287.4 641.4h-1.5M287.4 643.9h-1.5M287.4 646.0h-1.5M287.4 648.0h-1.5" stroke="#000" stroke-width="1.1" fill="none"/>
<rect x="287.4" y="477.3" width="174.6" height="170.7" fill="none" stroke="#000" stroke-width="1.3"/>
<path d="M328.7 477.3V648.0M287.4 576.7H462.0" stroke="#000" stroke-width="1.3" fill="none"/>
<text class="t" x="416" y="510" font-size="25" text-anchor="middle">24%</text>
<path d="M1 7h1M0 10h1M1 22h1M1 24h1M36 39h1M1 40h1M39 41h1M44 41h1M37 45h1M66 46h1M1 47h1M39 47h1M63 48h1M0 49h1M35 49h1M54 51h1M56 51h1M65 51h1M0 52h1M55 53h1M86 53h1M73 54h1M82 54h1M53 55h1M40 56h1M54 56h1M59 56h1M66 56h1M79 57h1M51 58h1M54 58h1M68 58h1M0 59h1M45 59h1M47 59h1M40 60h1M69 60h1M63 62h1M48 63h1M64 63h1M69 63h1M77 63h1M38 64h1M41 65h1M77 67h1M52 68h1M67 68h1M69 68h1M0 69h1M72 69h1M49 70h2M63 70h1M71 70h2M74 70h1M79 70h1M46 71h1M62 71h1M66 71h1M69 71h2M74 71h1M76 71h1M59 72h1M63 72h1M66 72h1M68 72h2M71 72h1M73 72h1M78 72h1M55 73h1M64 73h1M66 73h1M68 73h1M71 73h1M78 73h1M0 74h1M51 74h1M53 74h1M56 74h3M61 74h3M65 74h2M69 74h1M71 74h2M74 74h3M81 74h1M1 75h1M56 75h1M61 75h2M68 75h1M70 75h4M76 75h2M82 75h1M84 75h1M1 76h1M36 76h1M45 76h1M47 76h1M50 76h3M58 76h4M63 76h1M66 76h7M49 77h2M56 77h1M61 77h1M63 77h2M67 77h2M70 77h1M72 77h2M76 77h1M78 77h1M80 77h1M40 78h1M44 78h1M50 78h1M53 78h5M59 78h4M64 78h7M73 78h1M76 78h4M82 78h2M42 79h1M44 79h1M47 79h1M53 79h1M55 79h13M69 79h6M76 79h6M35 80h1M43 80h1M50 80h2M54 80h1M56 80h7M64 80h12M77 80h4M0 81h1M50 81h27M79 81h4M34 82h1M41 82h1M44 82h3M49 82h34M85 82h1M44 83h1M46 83h38M40 84h2M43 84h1M47 84h33M82 84h1M84 84h1M88 84h1M95 84h1M34 85h1M42 85h6M49 85h31M81 85h3M34 86h1M36 86h1M39 86h1M41 86h4M46 86h6M53 86h25M79 86h2M82 86h1M32 87h1M41 87h8M50 87h31M21 88h1M35 88h3M40 88h1M44 88h37M84 88h1M34 89h2M38 89h42M82 89h2M23 90h1M34 90h2M38 90h1M40 90h1M42 90h2M45 90h28M74 90h8M83 90h1M33 91h4M38 91h1M40 91h37M78 91h1M80 91h3M27 92h1M34 92h6M41 92h33M75 92h5M81 92h1M0 93h1M23 93h2M31 93h1M34 93h1M36 93h1M40 93h1M42 93h34M80 93h2M1 94h1M33 94h2M38 94h36M76 94h1M32 95h1M34 95h1M37 95h2M40 95h32M73 95h6M83 95h2M87 95h1M31 96h1M33 96h2M36 96h2M39 96h1M41 96h1M43 96h27M71 96h1M73 96h1M75 96h1M79 96h1M81 96h1M26 97h1M29 97h3M33 97h1M36 97h31M69 97h1M72 97h1M75 97h2M79 97h1M1 98h1M25 98h1M28 98h1M32 98h3M36 98h1M38 98h3M42 98h7M50 98h19M72 98h2M75 98h3M79 98h1M83 98h1M27 99h2M30 99h1M32 99h1M34 99h9M44 99h5M50 99h11M62 99h7M70 99h3M74 99h3M24 100h1M33 100h7M41 100h28M71 100h1M73 100h1M75 100h1M19 101h1M35 101h1M37 101h1M39 101h5M45 101h12M58 101h9M68 101h1M70 101h1M74 101h1M19 102h1M29 102h2M33 102h2M37 102h1M40 102h2M44 102h6M51 102h3M56 102h3M60 102h6M67 102h1M73 102h1M81 102h1M1 103h1M28 103h1M33 103h3M37 103h1M41 103h6M48 103h2M51 103h4M56 103h2M59 103h2M65 103h2M68 103h1M77 103h1M82 103h1M19 104h1M24 104h2M28 104h1M34 104h2M39 104h1M42 104h2M45 104h3M49 104h2M53 104h13M67 104h2M71 104h1M29 105h2M32 105h2M41 105h3M45 105h1M49 105h3M54 105h3M59 105h1M61 105h2M67 105h1M69 105h2M76 105h1M78 105h1M1 106h1M20 106h1M28 106h2M32 106h1M34 106h2M37 106h1M39 106h1M47 106h2M51 106h1M53 106h4M58 106h1M60 106h2M64 106h3M69 106h1M73 106h2M80 106h1M83 106h1M1 107h1M20 107h1M28 107h2M35 107h1M38 107h2M44 107h1M46 107h2M53 107h1M55 107h4M61 107h1M63 107h1M69 107h1M71 107h1M80 107h1M82 107h1M24 108h2M29 108h2M33 108h1M35 108h1M39 108h1M45 108h2M48 108h2M51 108h1M53 108h2M56 108h1M58 108h1M64 108h1M67 108h1M71 108h1M88 108h1M17 109h1M27 109h1M37 109h3M43 109h3M50 109h1M53 109h2M60 109h3M72 109h2M79 109h1M13 110h1M21 110h1M23 110h1M27 110h1M39 110h2M51 110h1M53 110h1M55 110h1M58 110h1M64 110h1M68 110h1M80 110h1M9 111h1M21 111h1M42 111h2M47 111h1M50 111h1M55 111h2M62 111h2M79 111h1M85 111h1M11 112h1M15 112h1M17 112h2M20 112h1M24 112h1M38 112h1M42 112h2M47 112h1M59 112h1M64 112h1M69 112h1M80 112h1M10 113h1M29 113h1M46 113h1M52 113h1M54 113h1M59 113h2M71 113h1M77 113h1M9 114h1M12 114h1M51 114h1M10 115h1M17 115h2M40 115h1M48 115h1M60 115h1M67 115h1M80 115h1M0 116h1M10 116h1M51 116h1M1 117h1M3 117h2M17 117h1M66 117h1M73 117h1M0 118h1M13 118h1M31 118h1M48 118h1M53 118h1M4 119h1M57 119h1M5 120h1M7 120h2M72 120h1M0 121h1M60 121h1" transform="translate(77.9 660.50) scale(1.4)" stroke="#000" stroke-width="1" fill="none"/>
<path d="M77.9 831.4v2.4M91.1 831.4v2.4M98.8 831.4v2.4M104.3 831.4v2.4M108.6 831.4v2.4M112.0 831.4v2.4M115.0 831.4v2.4M117.5 831.4v2.4M119.8 831.4v2.4M121.8 831.4v2.4M135.0 831.4v2.4M142.7 831.4v2.4M148.2 831.4v2.4M152.4 831.4v2.4M155.9 831.4v2.4M158.9 831.4v2.4M161.4 831.4v2.4M163.6 831.4v2.4M165.7 831.4v2.4M178.9 831.4v2.4M186.6 831.4v2.4M192.1 831.4v2.4M196.3 831.4v2.4M199.8 831.4v2.4M202.7 831.4v2.4M205.3 831.4v2.4M207.5 831.4v2.4M209.5 831.4v2.4M222.7 831.4v2.4M230.5 831.4v2.4M235.9 831.4v2.4M240.2 831.4v2.4M243.7 831.4v2.4M246.6 831.4v2.4M249.1 831.4v2.4M251.4 831.4v2.4M253.4 831.4v2.4M77.9 659.8h-1.5M77.9 672.7h-1.5M77.9 680.3h-1.5M77.9 685.6h-1.5M77.9 689.8h-1.5M77.9 693.2h-1.5M77.9 696.1h-1.5M77.9 698.5h-1.5M77.9 700.7h-1.5M77.9 702.7h-1.5M77.9 715.6h-1.5M77.9 723.2h-1.5M77.9 728.5h-1.5M77.9 732.7h-1.5M77.9 736.1h-1.5M77.9 739.0h-1.5M77.9 741.4h-1.5M77.9 743.6h-1.5M77.9 745.6h-1.5M77.9 758.5h-1.5M77.9 766.1h-1.5M77.9 771.4h-1.5M77.9 775.6h-1.5M77.9 779.0h-1.5M77.9 781.9h-1.5M77.9 784.3h-1.5M77.9 786.5h-1.5M77.9 788.5h-1.5M77.9 801.4h-1.5M77.9 809.0h-1.5M77.9 814.3h-1.5M77.9 818.5h-1.5M77.9 821.9h-1.5M77.9 824.8h-1.5M77.9 827.2h-1.5M77.9 829.4h-1.5M77.9 831.4h-1.5" stroke="#000" stroke-width="1.1" fill="none"/>
<rect x="77.9" y="659.8" width="175.5" height="171.6" fill="none" stroke="#000" stroke-width="1.3"/>
<path d="M120.1 659.8V831.4M77.9 759.7H253.4" stroke="#000" stroke-width="1.3" fill="none"/>
<text class="t" x="211" y="693.8" font-size="25" text-anchor="middle">1%</text>
<path d="M44 26h1M41 27h1M80 27h1M1 28h1M0 29h1M1 30h1M24 30h1M31 30h1M41 30h1M0 31h2M1 32h1M18 32h1M35 32h1M1 33h1M5 33h1M11 33h1M21 33h1M33 33h1M59 33h1M0 34h1M18 34h2M21 34h1M29 34h1M48 34h1M3 35h1M8 35h1M20 35h1M23 35h1M43 35h1M45 35h1M70 35h1M1 36h1M7 36h1M19 36h1M25 36h1M34 36h1M45 36h1M59 36h1M2 37h1M5 37h1M15 37h1M19 37h1M21 37h1M30 37h1M46 37h1M6 38h1M17 38h1M21 38h1M23 38h1M45 38h1M47 38h1M65 38h1M68 38h1M75 38h1M27 39h2M30 39h1M35 39h1M46 39h1M54 39h1M62 39h1M0 40h2M15 40h2M33 40h1M48 40h1M54 40h1M61 40h2M1 41h1M4 41h1M6 41h1M15 41h1M17 41h1M21 41h1M26 41h1M28 41h1M30 41h1M32 41h1M37 41h1M47 41h2M52 41h1M62 41h1M70 41h1M0 42h1M4 42h1M7 42h1M23 42h1M30 42h1M39 42h1M49 42h1M58 42h1M61 42h1M65 42h1M5 43h1M7 43h1M14 43h1M18 43h1M22 43h1M24 43h1M29 43h1M44 43h1M52 43h1M73 43h1M0 44h1M9 44h2M25 44h1M28 44h1M33 44h2M37 44h1M39 44h1M41 44h1M43 44h1M46 44h2M53 44h1M57 44h1M59 44h2M68 44h1M73 44h1M1 45h1M19 45h1M21 45h1M25 45h1M28 45h1M30 45h1M32 45h3M36 45h1M38 45h2M48 45h2M51 45h1M60 45h3M68 45h1M2 46h1M14 46h1M16 46h1M18 46h1M21 46h1M25 46h2M28 46h1M32 46h1M34 46h2M37 46h1M39 46h1M42 46h1M46 46h1M54 46h2M60 46h1M64 46h1M75 46h1M6 47h1M16 47h1M18 47h1M23 47h1M26 47h1M29 47h1M33 47h1M37 47h2M41 47h1M44 47h1M46 47h3M51 47h2M55 47h2M59 47h1M61 47h1M64 47h1M69 47h1M81 47h1M0 48h1M15 48h1M21 48h1M25 48h1M27 48h1M33 48h1M36 48h1M43 48h1M46 48h2M51 48h1M55 48h1M62 48h3M69 48h2M8 49h2M11 49h1M17 49h2M24 49h1M26 49h1M29 49h1M34 49h4M41 49h3M51 49h2M55 49h1M57 49h1M65 49h1M67 49h1M6 50h1M9 50h1M20 50h1M23 50h1M27 50h1M32 50h1M36 50h3M41 50h3M45 50h5M52 50h1M56 50h1M62 50h1M64 50h3M70 50h2M73 50h1M2 51h1M6 51h1M17 51h1M28 51h1M32 51h2M36 51h3M40 51h1M42 51h1M45 51h2M48 51h1M50 51h1M53 51h2M57 51h1M68 51h2M75 51h1M5 52h1M7 52h1M10 52h1M12 52h1M14 52h1M16 52h1M19 52h1M21 52h1M24 52h1M26 52h3M30 52h4M35 52h2M39 52h1M42 52h2M45 52h1M49 52h1M51 52h2M54 52h1M57 52h3M63 52h2M66 52h1M75 52h1M77 52h1M7 53h2M12 53h1M14 53h1M16 53h1M19 53h1M21 53h1M28 53h2M33 53h2M36 53h4M41 53h1M44 53h1M49 53h1M51 53h3M56 53h2M63 53h1M67 53h1M0 54h1M8 54h1M15 54h2M19 54h2M23 54h1M31 54h1M33 54h1M35 54h2M38 54h2M45 54h2M48 54h5M54 54h1M56 54h1M58 54h3M64 54h1M66 54h1M74 54h2M1 55h1M12 55h1M14 55h1M19 55h1M21 55h1M23 55h1M27 55h2M35 55h1M38 55h1M40 55h2M43 55h4M49 55h3M55 55h3M61 55h2M69 55h2M78 55h1M0 56h2M4 56h2M14 56h2M19 56h3M26 56h3M31 56h2M36 56h1M39 56h1M41 56h1M44 56h3M49 56h2M52 56h1M56 56h1M59 56h1M65 56h2M68 56h1M70 56h2M74 56h1M78 56h1M0 57h1M2 57h1M9 57h1M12 57h1M15 57h2M21 57h1M23 57h2M27 57h3M33 57h1M37 57h2M40 57h2M44 57h1M46 57h1M50 57h1M52 57h3M56 57h2M60 57h2M63 57h1M69 57h3M73 57h2M78 57h1M5 58h1M10 58h1M12 58h1M14 58h2M17 58h1M21 58h1M24 58h1M28 58h2M32 58h2M37 58h1M40 58h1M42 58h4M49 58h9M59 58h2M62 58h1M66 58h1M74 58h1M4 59h1M9 59h1M11 59h1M16 59h1M18 59h2M23 59h1M25 59h1M27 59h1M30 59h1M34 59h1M36 59h2M39 59h8M49 59h1M52 59h6M59 59h3M63 59h1M65 59h3M69 59h1M72 59h1M77 59h1M17 60h3M21 60h1M23 60h1M26 60h1M31 60h2M36 60h5M42 60h3M46 60h9M57 60h1M60 60h3M67 60h1M75 60h1M92 60h1M0 61h2M22 61h1M24 61h3M31 61h3M36 61h1M39 61h1M41 61h3M45 61h8M54 61h2M57 61h5M65 61h1M69 61h1M72 61h1M77 61h1M79 61h1M0 62h3M17 62h1M24 62h1M27 62h1M29 62h2M34 62h8M44 62h11M56 62h4M63 62h1M67 62h2M70 62h1M72 62h2M75 62h1M6 63h1M9 63h1M13 63h2M20 63h1M22 63h1M28 63h1M32 63h5M41 63h2M45 63h10M57 63h1M61 63h2M64 63h2M69 63h1M72 63h1M76 63h1M0 64h1M3 64h1M6 64h2M19 64h1M24 64h1M26 64h4M32 64h1M34 64h3M38 64h2M41 64h1M45 64h1M47 64h1M49 64h13M65 64h1M69 64h3M0 65h1M9 65h1M13 65h1M18 65h2M21 65h1M23 65h1M26 65h3M31 65h2M35 65h4M40 65h1M44 65h11M56 65h3M60 65h1M62 65h1M64 65h1M66 65h4M73 65h1M1 66h3M6 66h1M16 66h1M20 66h2M23 66h2M29 66h1M31 66h2M34 66h3M38 66h4M43 66h15M59 66h6M66 66h1M68 66h1M70 66h2M73 66h2M78 66h1M80 66h1M0 67h1M2 67h2M6 67h1M10 67h1M14 67h2M21 67h2M24 67h4M31 67h2M34 67h11M46 67h20M67 67h3M72 67h2M8 68h1M11 68h1M16 68h1M19 68h1M21 68h1M23 68h2M28 68h2M31 68h1M33 68h2M36 68h3M40 68h17M58 68h6M65 68h3M69 68h1M73 68h1M78 68h1M1 69h1M4 69h1M10 69h1M13 69h1M22 69h2M27 69h1M31 69h3M35 69h29M65 69h4M70 69h1M72 69h1M74 69h1M76 69h1M80 69h1M84 69h1M5 70h1M9 70h2M20 70h1M22 70h2M26 70h5M33 70h36M71 70h2M74 70h1M77 70h1M8 71h1M20 71h1M22 71h1M25 71h2M30 71h10M42 71h27M70 71h3M75 71h1M78 71h1M1 72h1M4 72h1M11 72h2M17 72h1M19 72h3M27 72h2M30 72h1M32 72h2M35 72h31M67 72h1M70 72h1M73 72h5M9 73h1M14 73h1M20 73h3M24 73h4M29 73h1M31 73h3M36 73h37M74 73h2M77 73h1M0 74h1M2 74h1M4 74h1M11 74h1M14 74h2M17 74h1M20 74h3M26 74h1M28 74h1M30 74h43M74 74h1M77 74h1M1 75h2M8 75h1M11 75h1M14 75h1M22 75h2M25 75h1M27 75h1M29 75h9M39 75h1M41 75h28M70 75h1M72 75h5M78 75h1M0 76h2M11 76h1M13 76h1M16 76h1M21 76h1M23 76h1M27 76h1M30 76h3M34 76h30M65 76h4M70 76h6M4 77h1M18 77h1M20 77h1M25 77h1M28 77h1M30 77h3M34 77h1M36 77h1M38 77h39M0 78h1M2 78h1M6 78h2M17 78h1M20 78h1M28 78h1M31 78h2M34 78h4M40 78h33M74 78h3M78 78h1M3 79h1M10 79h1M19 79h2M23 79h1M28 79h1M31 79h37M69 79h2M73 79h3M77 79h1M5 80h1M17 80h1M19 80h2M22 80h1M26 80h1M28 80h1M30 80h1M32 80h3M36 80h39M77 80h1M89 80h1M91 80h1M11 81h2M22 81h1M24 81h2M29 81h3M33 81h40M74 81h2M79 81h1M1 82h1M5 82h1M19 82h1M25 82h2M30 82h1M32 82h1M36 82h36M75 82h1M77 82h1M81 82h1M0 83h3M8 83h1M26 83h1M28 83h2M31 83h5M37 83h3M41 83h2M44 83h3M48 83h17M66 83h10M77 83h1M82 83h1M1 84h1M6 84h1M16 84h1M19 84h1M26 84h1M30 84h2M34 84h3M39 84h10M50 84h18M69 84h1M72 84h2M75 84h1M81 84h1M5 85h1M12 85h1M16 85h1M19 85h1M26 85h1M29 85h7M37 85h3M41 85h7M49 85h18M68 85h3M72 85h1M77 85h1M1 86h1M3 86h1M8 86h2M12 86h1M15 86h1M26 86h1M30 86h1M32 86h3M39 86h17M57 86h12M70 86h2M5 87h1M11 87h1M17 87h1M20 87h1M23 87h1M29 87h1M31 87h1M40 87h2M44 87h2M47 87h1M49 87h11M61 87h1M63 87h1M67 87h2M70 87h2M76 87h1M0 88h2M14 88h1M21 88h1M26 88h1M36 88h1M41 88h2M45 88h18M64 88h1M66 88h1M68 88h1M70 88h1M75 88h1M77 88h1M1 89h2M8 89h1M25 89h1M27 89h1M30 89h1M34 89h2M37 89h2M41 89h1M43 89h1M46 89h1M48 89h2M52 89h2M56 89h1M59 89h5M65 89h1M67 89h3M74 89h1M0 90h3M7 90h1M16 90h1M25 90h1M32 90h1M36 90h1M38 90h1M41 90h1M43 90h1M47 90h1M51 90h2M56 90h1M60 90h3M64 90h2M68 90h1M71 90h1M82 90h1M0 91h2M3 91h1M10 91h1M28 91h1M31 91h1M38 91h1M40 91h1M43 91h1M46 91h2M50 91h1M56 91h1M61 91h2M64 91h1M67 91h1M74 91h1M0 92h1M14 92h1M20 92h1M24 92h1M27 92h2M45 92h1M48 92h2M51 92h2M54 92h1M59 92h1M84 92h1M0 93h2M19 93h1M25 93h1M33 93h1M42 93h1M50 93h1M52 93h2M56 93h1M63 93h1M0 94h1M9 94h1M14 94h1M18 94h1M22 94h1M28 94h2M32 94h2M35 94h1M39 94h1M44 94h1M50 94h1M54 94h1M62 94h2M71 94h1M21 95h3M25 95h1M27 95h1M30 95h1M32 95h1M36 95h1M38 95h2M48 95h1M53 95h1M55 95h1M0 96h1M26 96h1M45 96h1M57 96h1M60 96h1M0 97h1M15 97h1M23 97h1M27 97h1M29 97h1M31 97h1M50 97h1M53 97h1M17 98h1M23 98h1M54 98h1M85 98h1M14 99h1M41 99h1M49 99h1M21 100h1M33 100h1M47 100h1M49 100h1M55 100h1M60 100h1M0 101h1M11 101h1M19 101h1M55 101h1M0 102h1M14 102h1M17 102h1M20 102h1M0 103h2M16 103h2M61 103h1M0 104h1M22 104h1M51 104h1M11 105h1M13 105h1M17 105h1M9 106h1M12 106h1M0 107h1M5 107h1M9 107h1M15 107h1M13 108h1M0 109h2M10 109h1M0 110h1M7 110h1M18 110h2M1 112h1M11 113h1M0 115h1M0 116h1M10 116h1M0 117h1M6 117h1M0 118h1M3 118h1M1 119h1M7 119h1" transform="translate(287.4 660.50) scale(1.4)" stroke="#000" stroke-width="1" fill="none"/>
<path d="M287.4 831.4v2.4M300.5 831.4v2.4M308.2 831.4v2.4M313.7 831.4v2.4M317.9 831.4v2.4M321.4 831.4v2.4M324.3 831.4v2.4M326.8 831.4v2.4M329.1 831.4v2.4M331.0 831.4v2.4M344.2 831.4v2.4M351.9 831.4v2.4M357.3 831.4v2.4M361.6 831.4v2.4M365.0 831.4v2.4M367.9 831.4v2.4M370.5 831.4v2.4M372.7 831.4v2.4M374.7 831.4v2.4M387.8 831.4v2.4M395.5 831.4v2.4M401.0 831.4v2.4M405.2 831.4v2.4M408.7 831.4v2.4M411.6 831.4v2.4M414.1 831.4v2.4M416.4 831.4v2.4M418.4 831.4v2.4M431.5 831.4v2.4M439.2 831.4v2.4M444.6 831.4v2.4M448.9 831.4v2.4M452.3 831.4v2.4M455.2 831.4v2.4M457.8 831.4v2.4M460.0 831.4v2.4M462.0 831.4v2.4M287.4 659.8h-1.5M287.4 672.7h-1.5M287.4 680.3h-1.5M287.4 685.6h-1.5M287.4 689.8h-1.5M287.4 693.2h-1.5M287.4 696.1h-1.5M287.4 698.5h-1.5M287.4 700.7h-1.5M287.4 702.7h-1.5M287.4 715.6h-1.5M287.4 723.2h-1.5M287.4 728.5h-1.5M287.4 732.7h-1.5M287.4 736.1h-1.5M287.4 739.0h-1.5M287.4 741.4h-1.5M287.4 743.6h-1.5M287.4 745.6h-1.5M287.4 758.5h-1.5M287.4 766.1h-1.5M287.4 771.4h-1.5M287.4 775.6h-1.5M287.4 779.0h-1.5M287.4 781.9h-1.5M287.4 784.3h-1.5M287.4 786.5h-1.5M287.4 788.5h-1.5M287.4 801.4h-1.5M287.4 809.0h-1.5M287.4 814.3h-1.5M287.4 818.5h-1.5M287.4 821.9h-1.5M287.4 824.8h-1.5M287.4 827.2h-1.5M287.4 829.4h-1.5M287.4 831.4h-1.5" stroke="#000" stroke-width="1.1" fill="none"/>
<rect x="287.4" y="659.8" width="174.6" height="171.6" fill="none" stroke="#000" stroke-width="1.3"/>
<path d="M328.7 659.8V831.4M287.4 759.9H462.0" stroke="#000" stroke-width="1.3" fill="none"/>
<text class="t" x="416" y="693.8" font-size="25" text-anchor="middle">24%</text>
</g>
<g id="panelC">
<text class="b" transform="translate(1.6 925.3) scale(0.87 1)" font-size="36.3">C</text>
<path d="M68.5 943.5H468.5V1207.5M68.5 943.5V1207.5M63.5 1202.5H468.5" fill="none" stroke="#6a6a6a" stroke-width="1"/>
<path d="M63.5 943.5H68.5M63.5 995.5H68.5M63.5 1047.5H68.5M63.5 1098.5H68.5M63.5 1150.5H68.5M148.5 1202.5v5M228.5 1202.5v5M308.5 1202.5v5M388.5 1202.5v5" stroke="#6a6a6a" stroke-width="1" fill="none"/>
<text class="s" x="55" y="950.4" font-size="19.5" text-anchor="end" textLength="8.6" lengthAdjust="spacingAndGlyphs">5</text>
<text class="s" x="55" y="1002.2" font-size="19.5" text-anchor="end" textLength="8.6" lengthAdjust="spacingAndGlyphs">4</text>
<text class="s" x="55" y="1054.0" font-size="19.5" text-anchor="end" textLength="8.6" lengthAdjust="spacingAndGlyphs">3</text>
<text class="s" x="55" y="1105.8" font-size="19.5" text-anchor="end" textLength="8.6" lengthAdjust="spacingAndGlyphs">2</text>
<text class="s" x="55" y="1157.6" font-size="19.5" text-anchor="end" textLength="8.6" lengthAdjust="spacingAndGlyphs">1</text>
<text class="s" x="55" y="1209.4" font-size="19.5" text-anchor="end" textLength="8.6" lengthAdjust="spacingAndGlyphs">0</text>
<text class="s" x="68.5" y="1240.5" font-size="19.5" text-anchor="middle" textLength="8.4" lengthAdjust="spacingAndGlyphs">0</text>
<text class="s" x="148.5" y="1240.5" font-size="19.5" text-anchor="middle" textLength="17.2" lengthAdjust="spacingAndGlyphs">10</text>
<text class="s" x="228.5" y="1240.5" font-size="19.5" text-anchor="middle" textLength="17.2" lengthAdjust="spacingAndGlyphs">20</text>
<text class="s" x="308.5" y="1240.5" font-size="19.5" text-anchor="middle" textLength="17.2" lengthAdjust="spacingAndGlyphs">30</text>
<text class="s" x="388.5" y="1240.5" font-size="19.5" text-anchor="middle" textLength="17.2" lengthAdjust="spacingAndGlyphs">40</text>
<text class="s" x="468.5" y="1240.5" font-size="19.5" text-anchor="middle" textLength="17.2" lengthAdjust="spacingAndGlyphs">50</text>
<text class="b" x="268.3" y="1277.5" font-size="24.5" text-anchor="middle" textLength="60.6" lengthAdjust="spacingAndGlyphs">Hours</text>
<text class="b" transform="translate(20.8 1153.8) rotate(-90) scale(0.8 1)" font-size="25.5" x="0 8.25 28.4 37.75 56.75 71 81.4 92.25 109.1 129.4 138.5 160.75 177">IL-12 (ng/mL)</text>
<path d="M164.5 1102.5V1121.7M159.0 1102.5h11M159.0 1121.7h11M260.5 1044.0V1072.5M255.0 1044.0h11M255.0 1072.5h11M356.5 1025.0V1056.6M351.0 1025.0h11M351.0 1056.6h11M452.5 990.1V1027.9M447.0 990.1h11M447.0 1027.9h11" stroke="#000" stroke-width="1.4" fill="none"/>
<polyline points="68.5,1202.5 164.5,1113.4 260.5,1059.0 356.5,1041.6 452.5,1010.3" fill="none" stroke="#000" stroke-width="3.6" stroke-linejoin="round"/>
<rect x="62.7" y="1194.9" width="13.2" height="15.2" fill="#000" stroke="#000" stroke-width="1.4"/>
<rect x="158.7" y="1105.8" width="13.2" height="15.2" fill="#000" stroke="#000" stroke-width="1.4"/>
<rect x="254.7" y="1051.4" width="13.2" height="15.2" fill="#000" stroke="#000" stroke-width="1.4"/>
<rect x="350.7" y="1034.0" width="13.2" height="15.2" fill="#000" stroke="#000" stroke-width="1.4"/>
<rect x="446.7" y="1002.7" width="13.2" height="15.2" fill="#000" stroke="#000" stroke-width="1.4"/>
<path d="M164.5 1182.6V1192.4M159.0 1192.4h11M260.5 1174.8V1183.6M255.0 1183.6h11M356.5 1164.4V1185.1M351.0 1164.4h11M351.0 1185.1h11M452.5 1151.5V1173.2M447.0 1151.5h11M447.0 1173.2h11" stroke="#000" stroke-width="1.4" fill="none"/>
<polyline points="68.5,1202.5 164.5,1182.6 260.5,1174.8 356.5,1174.8 452.5,1162.4" fill="none" stroke="#000" stroke-width="3.6" stroke-linejoin="round"/>
<rect x="62.1" y="1195.5" width="12" height="14" fill="#fff" stroke="#000" stroke-width="1.4"/>
<rect x="158.1" y="1175.6" width="12" height="14" fill="#fff" stroke="#000" stroke-width="1.4"/>
<rect x="254.1" y="1167.8" width="12" height="14" fill="#fff" stroke="#000" stroke-width="1.4"/>
<rect x="350.1" y="1167.8" width="12" height="14" fill="#fff" stroke="#000" stroke-width="1.4"/>
<rect x="446.1" y="1155.4" width="12" height="14" fill="#fff" stroke="#000" stroke-width="1.4"/>
<text class="t" x="159.3" y="1105.1" font-size="26.5" letter-spacing="-0.8">*</text>
<text class="t" x="248.8" y="1049.6" font-size="26.5" letter-spacing="-0.8">**</text>
<text class="t" x="346.3" y="1029.6" font-size="26.5" letter-spacing="-0.8">**</text>
<text class="t" x="438.8" y="994.6" font-size="26.5" letter-spacing="-0.8">**</text>
<path d="M103 974.4H141.5M103 1007.5H141" stroke="#000" stroke-width="3.2"/>
<rect x="116.5" y="966" width="13" height="16.6" fill="#000" stroke="#000" stroke-width="1"/>
<rect x="117.6" y="1002.3" width="8.6" height="9.8" fill="#fff" stroke="#000" stroke-width="1.4"/>
<text class="s" x="144.8" y="979.8" font-size="20" textLength="44.8" lengthAdjust="spacingAndGlyphs">BMDC</text>
<text class="s" x="144.8" y="1013.4" font-size="19.5" textLength="82.5" lengthAdjust="spacingAndGlyphs">TCCM-cells</text>
</g>
</svg>
</body></html>
